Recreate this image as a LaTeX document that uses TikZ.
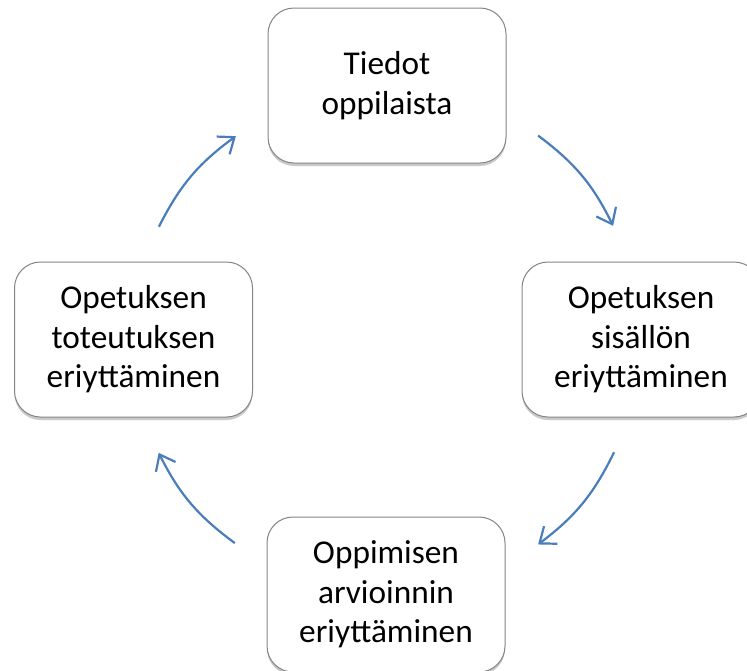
\documentclass[tikz,border=0pt]{standalone}
\usepackage{fontspec}
\setmainfont{Carlito}
\usetikzlibrary{arrows.meta,shadows,calc}
\definecolor{arrowblue}{HTML}{4A7EBB}
\definecolor{boxline}{HTML}{858585}
\tikzset{
  cyclebox/.style={draw=boxline, line width=1pt, fill=white, rounded corners=26pt,
    minimum width=238pt, minimum height=155pt, align=center, inner sep=0pt,
    font=\fontsize{33.3}{39.5}\selectfont,
    drop shadow={shadow xshift=0pt, shadow yshift=-3pt, opacity=0.35, fill=black!60}},
  cyclearrow/.style={draw=arrowblue, line width=2.2pt,
    -{Straight Barb[length=14pt,width=22pt,line width=2.2pt]}}
}
\begin{document}
\begin{tikzpicture}[x=1pt,y=-1pt]
\useasboundingbox (0,0) rectangle (747,670);
\coordinate (c) at (384,340);
\node[cyclebox] (top) at (387,85.5) {Tiedot\\oppilaista};
\node[cyclebox] (right) at (641,339.5) {Opetuksen\\sisällön\\eriyttäminen};
\node[cyclebox] (bottom) at (386,594.5) {Oppimisen\\arvioinnin\\eriyttäminen};
\node[cyclebox] (left) at (133.5,339.5) {Opetuksen\\toteutuksen\\eriyttäminen};
% arrow endpoints on a circle round the centre (y axis points down)
\coordinate (a1s) at ($(c)+(-53:256)$);
\coordinate (a1e) at ($(c)+(-26.5:256)$);
\coordinate (a2s) at ($(c)+(26:256)$);
\coordinate (a2e) at ($(c)+(53:256)$);
\coordinate (a3s) at ($(c)+(126.3:252)$);
\coordinate (a3e) at ($(c)+(153.4:252)$);
\coordinate (a4s) at ($(c)+(206.7:252)$);
\coordinate (a4e) at ($(c)+(234:252)$);
\draw[cyclearrow] (a1s) to[bend left=13.5] (a1e);
\draw[cyclearrow] (a2s) to[bend left=13.5] (a2e);
\draw[cyclearrow] (a3s) to[bend left=13.5] (a3e);
\draw[cyclearrow] (a4s) to[bend left=13.5] (a4e);
\end{tikzpicture}
\end{document}
